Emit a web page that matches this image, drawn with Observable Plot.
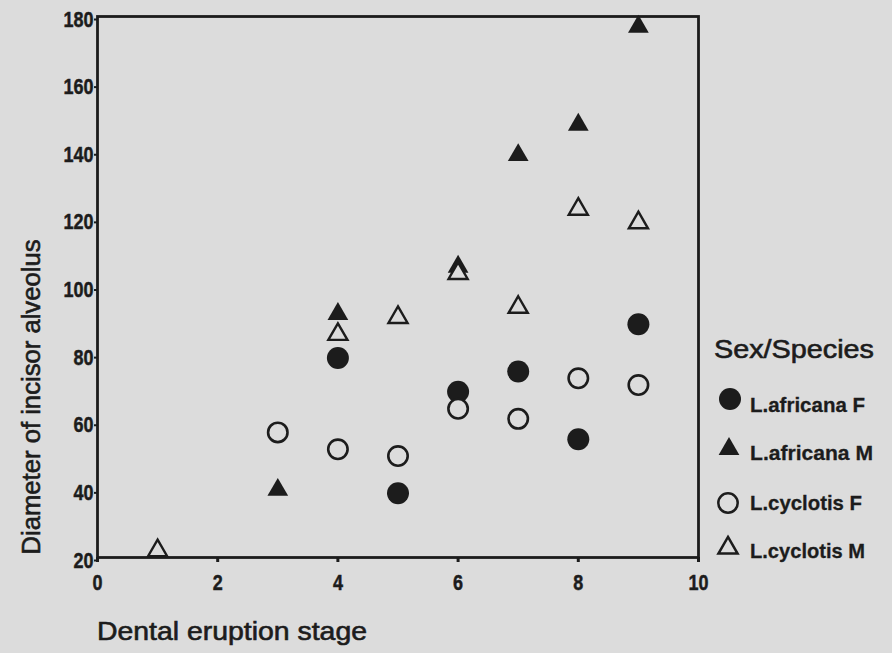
<!DOCTYPE html>
<html>
<head>
<meta charset="utf-8">
<script src="https://cdn.jsdelivr.net/npm/d3@7"></script>
<script src="https://cdn.jsdelivr.net/npm/@observablehq/plot@0.6"></script>
<style>
  html, body { margin: 0; padding: 0; background: #dcdcdc; }
  #chart { width: 892px; height: 653px; }
</style>
</head>
<body>
<div id="chart"></div>
<script>
// ---- data ----
const seriesNames = ["L.africana F", "L.africana M", "L.cyclotis F", "L.cyclotis M"];

const stagesAfricanaF = [4, 5, 6, 7, 8, 9];
const valuesAfricanaF = [79, 39, 69, 75, 55, 89];

const stagesAfricanaM = [3, 4, 6, 7, 8, 9];
const valuesAfricanaM = [40, 92, 106, 139, 148, 177];

const stagesCyclotisF = [3, 4, 5, 6, 7, 8, 9];
const valuesCyclotisF = [57, 52, 50, 64, 61, 73, 71];

const stagesCyclotisM = [1, 4, 5, 6, 7, 8, 9];
const valuesCyclotisM = [22, 86, 91, 104, 94, 123, 119];

const xTicks = [0, 2, 4, 6, 8, 10];
const yTicks = [20, 40, 60, 80, 100, 120, 140, 160, 180];

const xTitle = "Dental eruption stage";
const yTitle = "Diameter of incisor alveolus";
const legendTitle = "Sex/Species";

// ---- build rows ----
function rows(stages, values, name) {
  return stages.map((s, i) => ({stage: s, value: values[i], series: name}));
}
const afF = rows(stagesAfricanaF, valuesAfricanaF, seriesNames[0]);
const afM = rows(stagesAfricanaM, valuesAfricanaM, seriesNames[1]);
const cyF = rows(stagesCyclotisF, valuesCyclotisF, seriesNames[2]);
const cyM = rows(stagesCyclotisM, valuesCyclotisM, seriesNames[3]);

const BG = "#dcdcdc";
const INK = "#1c1c1c";
const circleR = 11;
const triR = 7.7;

const W = 892, H = 653;
const plot = Plot.plot({
  width: W,
  height: H,
  marginLeft: 97,
  marginRight: W - 698,
  marginTop: 16,
  marginBottom: H - 557,
  style: {
    background: BG,
    color: INK,
    fontFamily: "'Liberation Sans', Arial, sans-serif",
    fontWeight: "bold",
    fontSize: "22px"
  },
  x: {domain: [0, 10], label: null},
  y: {domain: [20, 180], label: null},
  marks: [
    Plot.axisX({ticks: xTicks, tickSize: 5, tickPadding: 12, strokeWidth: 3, fontSize: 22, label: null}),
    Plot.axisY({ticks: yTicks, tickSize: 3, tickPadding: 1, strokeWidth: 2, fontSize: 22, label: null, dy: 3}),
    Plot.frame({stroke: INK, strokeWidth: 2.8}),
    Plot.dot(afF, {x: "stage", y: "value", symbol: "circle", r: circleR, fill: INK, stroke: "none"}),
    Plot.dot(afM, {x: "stage", y: "value", symbol: "triangle", r: triR, fill: INK, stroke: "none"}),
    Plot.dot(cyF, {x: "stage", y: "value", symbol: "circle", r: circleR - 1.3, fill: BG, stroke: INK, strokeWidth: 2.6}),
    Plot.dot(cyM, {x: "stage", y: "value", symbol: "triangle", r: triR - 0.6, fill: BG, stroke: INK, strokeWidth: 2.4})
  ]
});

document.getElementById("chart").appendChild(plot);

const svg = d3.select(plot);

// condense and thicken the tick labels like the reference's narrow heavy digits
svg.selectAll("g[aria-label='x-axis tick label'] text, g[aria-label='y-axis tick label'] text").each(function() {
  const n = this.textContent.length;
  this.setAttribute("textLength", 10 * n);
  this.setAttribute("lengthAdjust", "spacingAndGlyphs");
  this.setAttribute("stroke", INK);
  this.setAttribute("stroke-width", 0.5);
});

// ---- axis titles and legend ----
const titleFont = "'Liberation Sans', Arial, sans-serif";

svg.append("text")
  .attr("x", 97).attr("y", 640)
  .attr("text-anchor", "start")
  .attr("font-family", titleFont).attr("font-size", 25).attr("font-weight", "normal")
  .attr("fill", INK).attr("stroke", INK).attr("stroke-width", 0.6)
  .attr("textLength", 270).attr("lengthAdjust", "spacingAndGlyphs")
  .text(xTitle);

svg.append("text")
  .attr("transform", "translate(40,397) rotate(-90)")
  .attr("text-anchor", "middle")
  .attr("font-family", titleFont).attr("font-size", 25).attr("font-weight", "normal")
  .attr("fill", INK).attr("stroke", INK).attr("stroke-width", 0.6)
  .attr("textLength", 315).attr("lengthAdjust", "spacingAndGlyphs")
  .text(yTitle);

svg.append("text")
  .attr("x", 714).attr("y", 358)
  .attr("text-anchor", "start")
  .attr("font-family", titleFont).attr("font-size", 25).attr("font-weight", "normal")
  .attr("fill", INK).attr("stroke", INK).attr("stroke-width", 0.6)
  .attr("textLength", 160).attr("lengthAdjust", "spacingAndGlyphs")
  .text(legendTitle);

const legendItems = [
  {name: seriesNames[0], type: d3.symbolCircle, r: circleR, filled: true, cx: 730, cy: 399, ty: 412, tl: 115},
  {name: seriesNames[1], type: d3.symbolTriangle, r: triR, filled: true, cx: 729, cy: 449, ty: 460, tl: 123},
  {name: seriesNames[2], type: d3.symbolCircle, r: circleR - 1.3, filled: false, cx: 728, cy: 503, ty: 510, tl: 112},
  {name: seriesNames[3], type: d3.symbolTriangle, r: triR - 0.6, filled: false, cx: 728, cy: 548, ty: 558, tl: 115}
];
const lg = svg.append("g");
legendItems.forEach(it => {
  lg.append("path")
    .attr("transform", `translate(${it.cx},${it.cy})`)
    .attr("d", d3.symbol(it.type, Math.PI * it.r * it.r)())
    .attr("fill", it.filled ? INK : BG)
    .attr("stroke", it.filled ? "none" : INK)
    .attr("stroke-width", it.filled ? 0 : 2.5);
  lg.append("text")
    .attr("x", 750).attr("y", it.ty)
    .attr("text-anchor", "start")
    .attr("font-family", titleFont).attr("font-size", 21).attr("font-weight", "bold")
    .attr("fill", INK).attr("stroke", INK).attr("stroke-width", 0.3)
    .attr("textLength", it.tl).attr("lengthAdjust", "spacingAndGlyphs")
    .text(it.name);
});
</script>
</body>
</html>
